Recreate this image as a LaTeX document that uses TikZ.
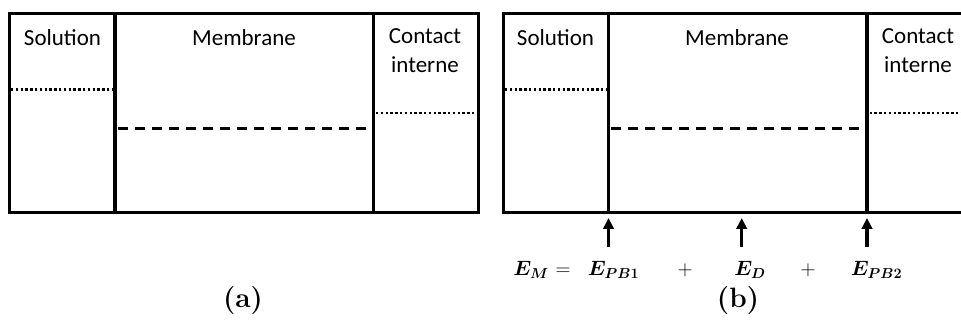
\documentclass[tikz,border=0pt]{standalone}
\usepackage{fontspec}
\usepackage{bm}
\usetikzlibrary{arrows.meta}
\newfontfamily\carlito{Carlito}
\tikzset{
  frame/.style={line width=3pt, line join=miter},
  divider/.style={line width=3.6pt},
  dotline/.style={line width=2.2pt, dash pattern=on 2.4pt off 2.4pt},
  dashline/.style={line width=2.3pt, dash pattern=on 10pt off 7pt},
  lbl/.style={font=\carlito\fontsize{23}{27}\selectfont, inner sep=0pt, align=center},
  eq/.style={font=\fontsize{22.5}{27}\selectfont, inner sep=0pt, anchor=base},
  captext/.style={font=\bfseries\fontsize{28}{32}\selectfont, inner sep=0pt},
  arr/.style={line width=3.2pt, -{Triangle[length=11pt,width=10.5pt]}}
}
\begin{document}
\begin{tikzpicture}[x=1pt,y=-1pt]
\useasboundingbox (0,0) rectangle (961,323);
\clip (0,0) rectangle (961,323);
% ---------- panel (a)
\draw[frame] (9,13.5) rectangle (478,212.5);
\draw[divider] (115,13.5) -- (115,212.5);
\draw[divider] (373.5,13.5) -- (373.5,212.5);
\draw[dotline] (11,89.5) -- (113,89.5);
\draw[dashline] (117.5,128.5) -- (371.5,128.5);
\draw[dotline] (376,113) -- (477,113);
\node[lbl] (sola) at (62.5,38) {Solution};
\node[lbl] (mema) at (244,38) {Membrane};
\node[lbl] (cona) at (425,51) {Contact\\[2pt]interne};
\node[captext] (capa) at (243,301) {(a)};
% ---------- panel (b)
\draw[frame] (503,13.5) rectangle (975,212.5);
\draw[divider] (608.5,13.5) -- (608.5,212.5);
\draw[divider] (867,13.5) -- (867,212.5);
\draw[dotline] (505,89.5) -- (606,89.5);
\draw[dashline] (611,128.5) -- (865,128.5);
\draw[dotline] (869.5,113) -- (961,113);
\node[lbl] (solb) at (555.5,38) {Solution};
\node[lbl] (memb) at (737,38) {Membrane};
\node[lbl] (conb) at (918,51) {Contact\\[2pt]interne};
\node[captext] (capb) at (738,301) {(b)};
% arrows
\coordinate (t1) at (608.5,218);
\coordinate (t2) at (741.7,218);
\coordinate (t3) at (867,218);
\coordinate (s1) at (608.5,247);
\coordinate (s2) at (741.7,247);
\coordinate (s3) at (867,247);
\draw[arr] (s1) -- (t1);
\draw[arr] (s2) -- (t2);
\draw[arr] (s3) -- (t3);
% equation
\node[eq] (em) at (531,275) {$\bm{E_M}$};
\node[eq] (eqs) at (563,275) {$=$};
\node[eq] (pb1) at (613.5,275) {$\bm{E_{PB1}}$};
\node[eq] (p1) at (685,275) {$+$};
\node[eq] (ed) at (750,275) {$\bm{E_D}$};
\node[eq] (p2) at (808,275) {$+$};
\node[eq] (pb2) at (876.5,275) {$\bm{E_{PB2}}$};
\end{tikzpicture}
\end{document}
